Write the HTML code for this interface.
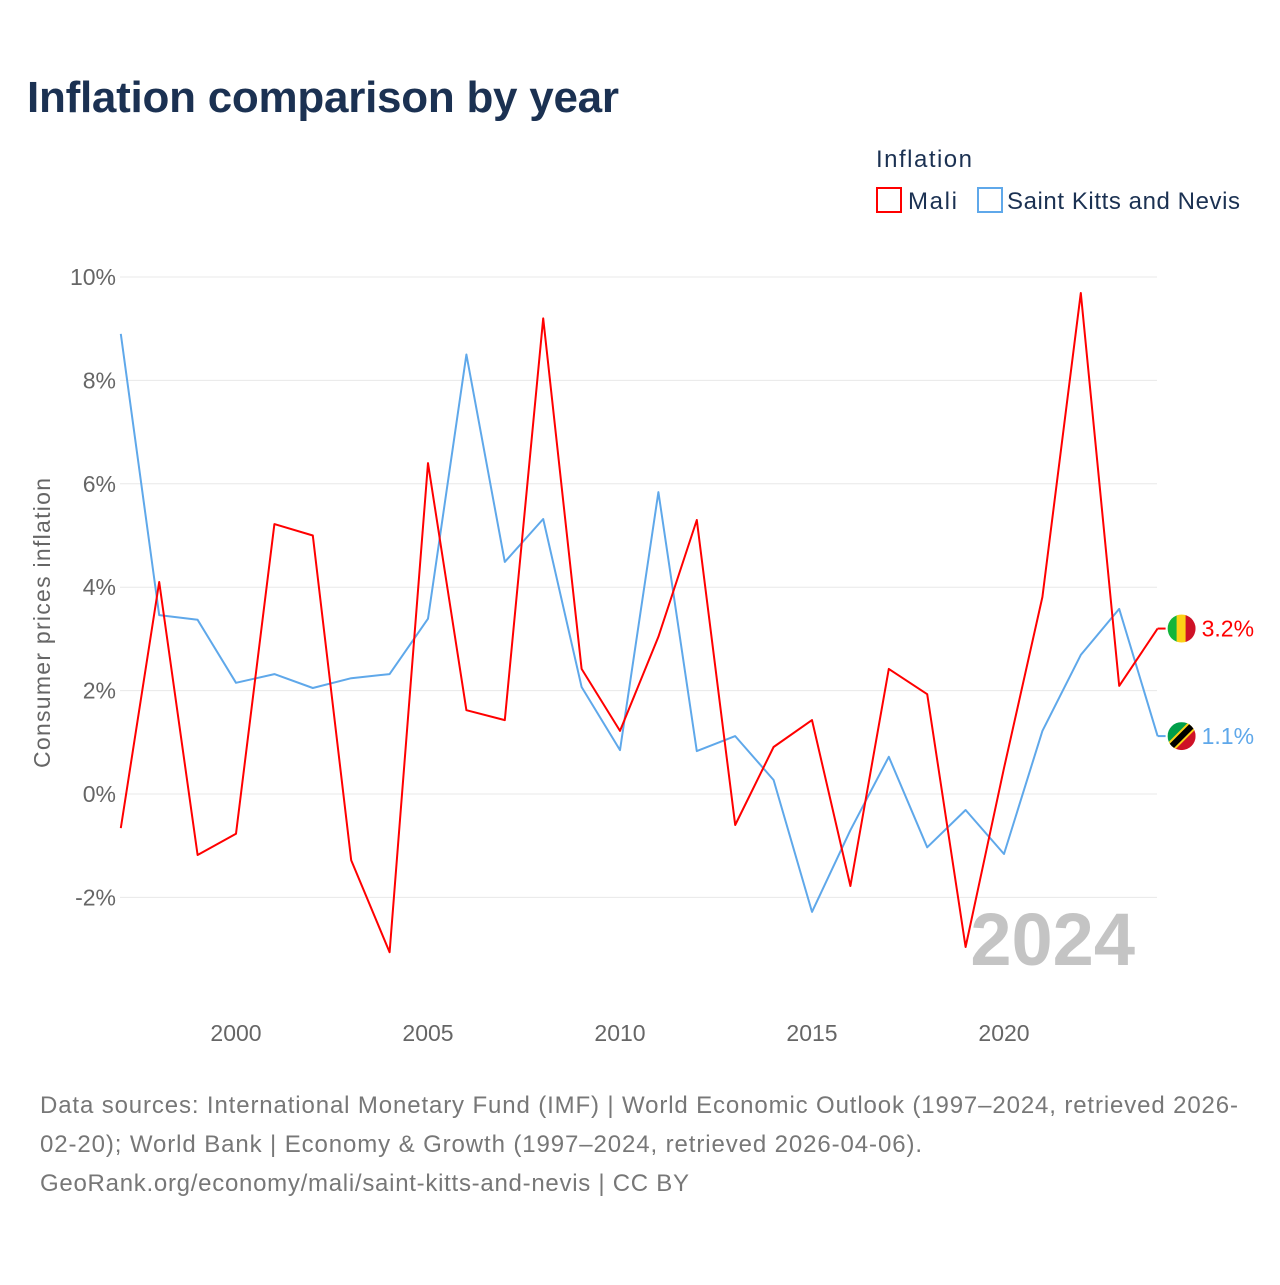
<!DOCTYPE html>
<html><head><meta charset="utf-8"><style>
body{margin:0;background:#fff;font-family:"Liberation Sans",sans-serif;}
#wrap{position:relative;width:1280px;height:1280px;}
</style></head><body>
<div id="wrap">
<svg id="chart" width="1280" height="1280" xmlns="http://www.w3.org/2000/svg" font-family="Liberation Sans, sans-serif">
<text x="27" y="112" font-size="44" font-weight="bold" fill="#1b3152" textLength="592">Inflation comparison by year</text>
<text x="876" y="167" font-size="24" fill="#1b3152" textLength="96">Inflation</text>
<g><rect x="877" y="188" width="24" height="24" fill="none" stroke="#ff0000" stroke-width="2"/><text x="908" y="209" font-size="24" fill="#1b3152" textLength="49">Mali</text></g>
<g><rect x="978" y="188" width="24" height="24" fill="none" stroke="#5fa8ea" stroke-width="2"/><text x="1007" y="209" font-size="24" fill="#1b3152" textLength="233">Saint Kitts and Nevis</text></g>
<g id="grid"></g><g id="yticks"></g><g id="xticks"></g>
<text transform="translate(50,623) rotate(-90)" text-anchor="middle" font-size="23" fill="#666" textLength="290">Consumer prices inflation</text>
<text x="1135" y="965" text-anchor="end" font-size="74" font-weight="bold" fill="#c4c4c4">2024</text>
<g id="series"></g>
<text x="40" y="1113" font-size="24" fill="#777" textLength="1198">Data sources: International Monetary Fund (IMF) | World Economic Outlook (1997–2024, retrieved 2026-</text>
<text x="40" y="1152" font-size="24" fill="#777" textLength="882">02-20); World Bank | Economy &amp; Growth (1997–2024, retrieved 2026-04-06).</text>
<text x="40" y="1191" font-size="24" fill="#777" textLength="649">GeoRank.org/economy/mali/saint-kitts-and-nevis | CC BY</text>
</svg>
</div>
<script>
const years=[1997,1998,1999,2000,2001,2002,2003,2004,2005,2006,2007,2008,2009,2010,2011,2012,2013,2014,2015,2016,2017,2018,2019,2020,2021,2022,2023,2024];
const maliValues=[-0.66,4.1,-1.18,-0.77,5.22,5.0,-1.28,-3.06,6.4,1.62,1.43,9.2,2.42,1.22,3.04,5.3,-0.6,0.91,1.43,-1.78,2.42,1.93,-2.96,0.5,3.81,9.69,2.09,3.2];
const sknValues=[8.9,3.46,3.37,2.15,2.32,2.05,2.24,2.32,3.39,8.5,4.49,5.32,2.07,0.85,5.84,0.83,1.12,0.27,-2.28,-0.7,0.72,-1.03,-0.31,-1.16,1.22,2.69,3.58,1.12];
const yTicks=[-2,0,2,4,6,8,10];
const xTicks=[2000,2005,2010,2015,2020];
const NS="http://www.w3.org/2000/svg";
const xS=y=>120.8+(y-1997)*38.4;
const yS=v=>794-v*51.7;
function mk(tag,attrs,parent){const e=document.createElementNS(NS,tag);for(const k in attrs)e.setAttribute(k,attrs[k]);parent.appendChild(e);return e;}
const grid=document.getElementById('grid'),yt=document.getElementById('yticks'),xt=document.getElementById('xticks'),ser=document.getElementById('series');
yTicks.forEach(v=>{
 const l=mk('line',{x1:120,x2:1157,y1:yS(v),y2:yS(v),stroke:'#e8e8e8','stroke-width':1},grid);
 
 
 const t=mk('text',{x:116,y:yS(v)+8,'text-anchor':'end','font-size':23,fill:'#666'},yt);
 t.textContent=v+'%';
 
 
});
xTicks.forEach(y=>{
 const t=mk('text',{x:xS(y),y:1041,'text-anchor':'middle','font-size':23,fill:'#666'},xt);
 t.textContent=y;
 
 
});
function line(vals,color,name){
 const d=vals.map((v,i)=>(i?'L':'M')+xS(years[i]).toFixed(1)+' '+yS(v).toFixed(1)).join(' ');
 const p=mk('path',{d:d,fill:'none',stroke:color,'stroke-width':2,'stroke-linejoin':'round'},ser);
 
 
}
line(sknValues,'#5fa8ea','line-saint-kitts');
line(maliValues,'#ff0000','line-mali');
function endLabel(vals,color,name,flag){
 const v=vals[vals.length-1],y=yS(v),x=xS(2024);
 mk('line',{x1:x,x2:x+8,y1:y,y2:y,stroke:color,'stroke-width':2},ser);
 const g=mk('g',{},ser);
 
 
 const cx=x+24;
 const cp=mk('clipPath',{id:'cp'+name},g);mk('circle',{cx:cx,cy:y,r:14},cp);
 const gg=mk('g',{'clip-path':'url(#cp'+name+')'},g);
 if(flag==='mali'){
  mk('rect',{x:cx-14,y:y-14,width:10,height:28,fill:'#14b53a'},gg);
  mk('rect',{x:cx-5,y:y-14,width:10,height:28,fill:'#fcd116'},gg);
  mk('rect',{x:cx+4,y:y-14,width:10,height:28,fill:'#ce1126'},gg);
 }else{
  mk('polygon',{points:`${cx-14},${y-14} ${cx+14},${y-14} ${cx-14},${y+14}`,fill:'#009e49'},gg);
  mk('polygon',{points:`${cx+14},${y-14} ${cx+14},${y+14} ${cx-14},${y+14}`,fill:'#ce1126'},gg);
  mk('line',{x1:cx-16,y1:y+16,x2:cx+16,y2:y-16,stroke:'#fcd116','stroke-width':10},gg);
  mk('line',{x1:cx-16,y1:y+16,x2:cx+16,y2:y-16,stroke:'#000','stroke-width':6},gg);
 }
 const t=mk('text',{x:cx+20,y:y+8,'font-size':23,fill:color},ser);
 t.textContent=v.toFixed(1)+'%';
 
 
}
endLabel(maliValues,'#ff0000','mali','mali');
endLabel(sknValues,'#5fa8ea','saint-kitts','skn');
</script>
</body></html>
